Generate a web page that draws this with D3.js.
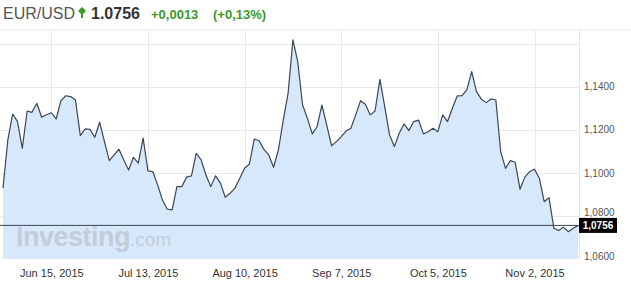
<!DOCTYPE html>
<html>
<head>
<meta charset="utf-8">
<script src="https://cdn.jsdelivr.net/npm/d3@7"></script>
<style>
  html, body { margin: 0; padding: 0; background: #fff; }
  svg { display: block; font-family: Arial, "Liberation Sans", sans-serif; }
</style>
</head>
<body>
<svg id="chart" width="631" height="293"></svg>
<script>
// ---- data ----
const symbol = "EUR/USD";
const lastPrice = "1.0756";
const change = "+0,0013";
const changePct = "(+0,13%)";
const lastValue = 1.0756;
const lastLabel = "1,0756";
const startDate = "2015-06-01"; // first trading day shown (weekdays only)
const closes = [
  1.0929, 1.1153, 1.1273, 1.1238, 1.1114, 1.1287, 1.1281, 1.1323, 1.1258, 1.1270,
  1.1279, 1.1250, 1.1335, 1.1358, 1.1354, 1.1338, 1.1173, 1.1204, 1.1202, 1.1165,
  1.1235, 1.1145, 1.1057, 1.1083, 1.1110, 1.1060, 1.1013, 1.1072, 1.1045, 1.1161,
  1.1009, 1.1006, 1.0944, 1.0874, 1.0831, 1.0828, 1.0936, 1.0936, 1.0980, 1.0986,
  1.1091, 1.1060, 1.0990, 1.0936, 1.0986, 1.0952, 1.0887, 1.0905, 1.0929, 1.0975,
  1.1021, 1.1041, 1.1157, 1.1149, 1.1109, 1.1083, 1.1026, 1.1106, 1.1245, 1.1369,
  1.1617, 1.1516, 1.1315, 1.1253, 1.1181, 1.1214, 1.1315, 1.1222, 1.1125, 1.1145,
  1.1168, 1.1194, 1.1207, 1.1269, 1.1335, 1.1318, 1.1269, 1.1287, 1.1434, 1.1307,
  1.1176, 1.1122, 1.1184, 1.1227, 1.1196, 1.1238, 1.1245, 1.1181, 1.1191, 1.1207,
  1.1191, 1.1269, 1.1238, 1.1300, 1.1357, 1.1358, 1.1385, 1.1470, 1.1377, 1.1342,
  1.1326, 1.1343, 1.1338, 1.1098, 1.1021, 1.1057, 1.1049, 1.0924, 1.0980, 1.1006,
  1.1017, 1.0975, 1.0866, 1.0885, 1.0743, 1.0732, 1.0748, 1.0727, 1.0743, 1.0755
];
const xTickDates = ["2015-06-15", "2015-07-13", "2015-08-10", "2015-09-07", "2015-10-05", "2015-11-02"];
const xTickLabels = ["Jun 15, 2015", "Jul 13, 2015", "Aug 10, 2015", "Sep 7, 2015", "Oct 5, 2015", "Nov 2, 2015"];
const yGridValues = [1.06, 1.08, 1.10, 1.12, 1.14, 1.16];
const yTickValues = [1.06, 1.08, 1.10, 1.12, 1.14];
const yTickLabels = ["1,0600", "1,0800", "1,1000", "1,1200", "1,1400"];

// ---- trading-day calendar (weekdays from start) ----
const fmt = d3.utcFormat("%Y-%m-%d");
const dates = [];
{
  let d = new Date(startDate + "T00:00:00Z");
  while (dates.length < closes.length) {
    const wd = d.getUTCDay();
    if (wd !== 0 && wd !== 6) dates.push(fmt(d));
    d = new Date(d.getTime() + 86400000);
  }
}
const data = closes.map((v, i) => ({ date: dates[i], value: v }));

// ---- layout ----
const svg = d3.select("#chart");
const plot = { left: 0, right: 579, top: 30, bottom: 259 };

const x = d3.scalePoint().domain(dates).range([3, 578]);
const y = d3.scaleLinear().domain([1.06, 1.16]).range([259, 43.6]);

// header divider
svg.append("line").attr("x1", 0).attr("x2", 631).attr("y1", plot.top).attr("y2", plot.top)
  .attr("stroke", "#ececec").attr("stroke-width", 1);

// gridlines
svg.append("g").selectAll("line").data(yGridValues.filter(v => v > 1.06)).join("line")
  .attr("x1", plot.left).attr("x2", plot.right)
  .attr("y1", d => Math.round(y(d)) + 0.5).attr("y2", d => Math.round(y(d)) + 0.5)
  .attr("stroke", "#e9e9e9").attr("stroke-width", 1);
svg.append("g").selectAll("line").data(xTickDates).join("line")
  .attr("x1", d => Math.round(x(d)) + 0.5).attr("x2", d => Math.round(x(d)) + 0.5)
  .attr("y1", plot.top).attr("y2", plot.bottom)
  .attr("stroke", "#e9e9e9").attr("stroke-width", 1);

// area + line
const area = d3.area().x(d => x(d.date)).y0(plot.bottom).y1(d => y(d.value));
const line = d3.line().x(d => x(d.date)).y(d => y(d.value));
svg.append("path").datum(data).attr("d", area).attr("fill", "#d8e8fb");

// watermark
const wm = svg.append("text").attr("x", 16).attr("y", 246);
wm.append("tspan").text("Investing").attr("font-size", 27).attr("font-weight", "bold")
  .attr("fill", "#c3ccd8").attr("letter-spacing", -0.5);
wm.append("tspan").text(".com").attr("font-size", 19).attr("fill", "#c3ccd8");

svg.append("path").datum(data).attr("d", line).attr("fill", "none")
  .attr("stroke", "#3b4656").attr("stroke-width", 1.2).attr("stroke-linejoin", "round");

// right border of plot
svg.append("line").attr("x1", plot.right + 0.5).attr("x2", plot.right + 0.5)
  .attr("y1", plot.top).attr("y2", plot.bottom).attr("stroke", "#e6e6e6");

// last value line
svg.append("line").attr("x1", 0).attr("x2", plot.right)
  .attr("y1", y(lastValue)).attr("y2", y(lastValue))
  .attr("stroke", "#3b4656").attr("stroke-width", 1);

// x axis labels
const xAxis = d3.axisBottom(x).tickValues(xTickDates)
  .tickFormat(d => xTickLabels[xTickDates.indexOf(d)]).tickSize(0).tickPadding(0);
const gx = svg.append("g").attr("transform", `translate(0,${plot.bottom + 10})`).call(xAxis);
gx.select(".domain").remove();
gx.selectAll("text").attr("font-size", 11).attr("fill", "#333").attr("font-family", "Arial, 'Liberation Sans', sans-serif");

// y axis labels
const yAxis = d3.axisRight(y).tickValues(yTickValues)
  .tickFormat(d => yTickLabels[yTickValues.indexOf(d)]).tickSize(0).tickPadding(0);
const gy = svg.append("g").attr("transform", `translate(${plot.right + 5},0)`).call(yAxis);
gy.select(".domain").remove();
gy.selectAll("text").attr("font-size", 10).attr("fill", "#555").attr("font-family", "Arial, 'Liberation Sans', sans-serif");
gy.selectAll(".tick").filter(d => d === 1.06).attr("transform", `translate(0,${y(1.06) - 2})`);
gy.selectAll(".tick").filter(d => d === 1.08).attr("transform", `translate(0,${y(1.08) - 3.5})`);

// last value badge
const by = y(lastValue);
svg.append("rect").attr("x", plot.right).attr("y", by - 7.5).attr("width", 38).attr("height", 15).attr("fill", "#000");
svg.append("text").attr("x", plot.right + 19).attr("y", by + 3.5).attr("text-anchor", "middle")
  .attr("font-size", 10).attr("font-weight", "bold").attr("fill", "#fff").text(lastLabel);

// header
svg.append("text").attr("x", 3).attr("y", 19).attr("font-size", 16).attr("fill", "#555").text(symbol);
svg.append("path").attr("d", "M82,7 L86,11 L82,15 L78,11 Z M81,14 L83,14 L83,18 L81,18 Z").attr("fill", "#3a9a2a");
svg.append("text").attr("x", 91).attr("y", 19).attr("font-size", 16).attr("font-weight", "bold").attr("fill", "#333").text(lastPrice);
svg.append("text").attr("x", 151).attr("y", 19).attr("font-size", 13).attr("font-weight", "bold").attr("fill", "#3a9a2a").text(change);
svg.append("text").attr("x", 213).attr("y", 19).attr("font-size", 13).attr("font-weight", "bold").attr("fill", "#3a9a2a").text(changePct);
</script>
</body>
</html>
